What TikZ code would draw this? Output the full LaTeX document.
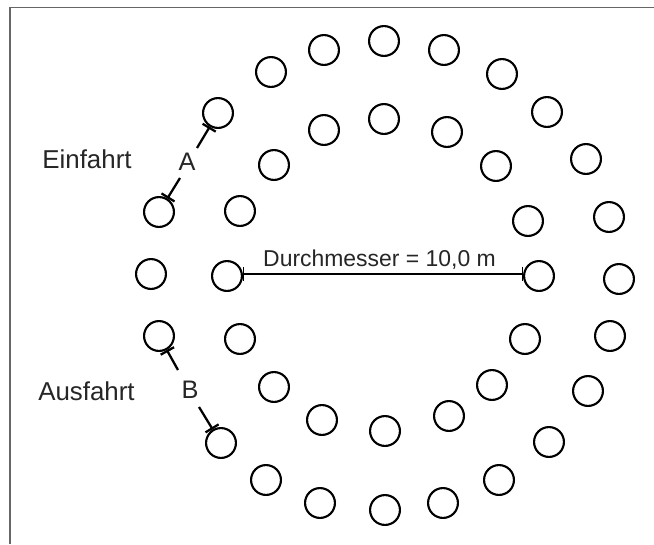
\documentclass[tikz,border=0pt]{standalone}
\usepackage{fontspec}
\setmainfont{Liberation Sans}
\usetikzlibrary{arrows.meta}
\tikzset{
  x=0.75pt,y=-0.75pt,
  post/.style={circle,draw=black,line width=1.6pt,minimum size=22.4pt,inner sep=0pt,fill=white},
  lab/.style={inner sep=0pt,font=\fontsize{19.4}{23}\selectfont,text=black!85},
  sublab/.style={inner sep=0pt,font=\fontsize{19}{23}\selectfont,text=black!85},
  conn/.style={draw=black,line width=1.7pt,-{Bar[width=11.5pt,length=1.4pt]}},
  dimline/.style={draw=black,line width=1.1pt,{Bar[width=10.5pt,length=1pt]}-{Bar[width=10.5pt,length=1pt]}}
}
\begin{document}
\begin{tikzpicture}
\useasboundingbox (0,0) rectangle (654,544);
\fill[white] (0,0) rectangle (654,544);
\draw[black!60,line width=0.9pt] (10,544) -- (10,7.7) -- (654,7.7);
% outer ring
\foreach \n/\x/\y in {o1/384/41,o2/444/50,o3/502/74,o4/547/112,o5/586/159,o6/609/217,o7/619/279,o8/610/336,o9/588/391,o10/549/442,o11/499/480,o12/443/503,o13/385/510,o14/320/503,o15/266/480,o16/221/443,o17/159/336,o18/151/274,o19/159/212,o20/218/113,o21/271/72,o22/324/50}
  \node[post] (\n) at (\x,\y) {};
% inner ring
\foreach \n/\x/\y in {i1/384/119,i2/447/132,i3/496/166,i4/528/221,i5/539/276,i6/525/339,i7/492/385,i8/449/416,i9/385/431,i10/322/420,i11/274/387,i12/240/339,i13/227/276,i14/240/211,i15/274/165,i16/324/130}
  \node[post] (\n) at (\x,\y) {};
\node[lab] (ein) at (87,159.5) {Einfahrt};
\node[lab] (aus) at (86.5,391.5) {Ausfahrt};
\node[sublab] (a) at (187,162) {A};
\node[sublab] (b) at (190,390) {B};
\node[inner sep=0pt,font=\fontsize{17.2}{20}\selectfont,text=black!85] (d) at (379.5,259.5) {Durchmesser = 10,0 m};
% free ends next to the letters
\coordinate (a1) at (197,148);
\coordinate (a2) at (180,178);
\coordinate (b1) at (178,370);
\coordinate (b2) at (199,407);
\draw[dimline] ([yshift=1.4pt]i13.east) -- ([yshift=1.4pt]i5.west);
\draw[conn] (a1) -- (o20);
\draw[conn] (a2) -- (o19);
\draw[conn] (b1) -- (o17);
\draw[conn] (b2) -- (o16);
\end{tikzpicture}
\end{document}
